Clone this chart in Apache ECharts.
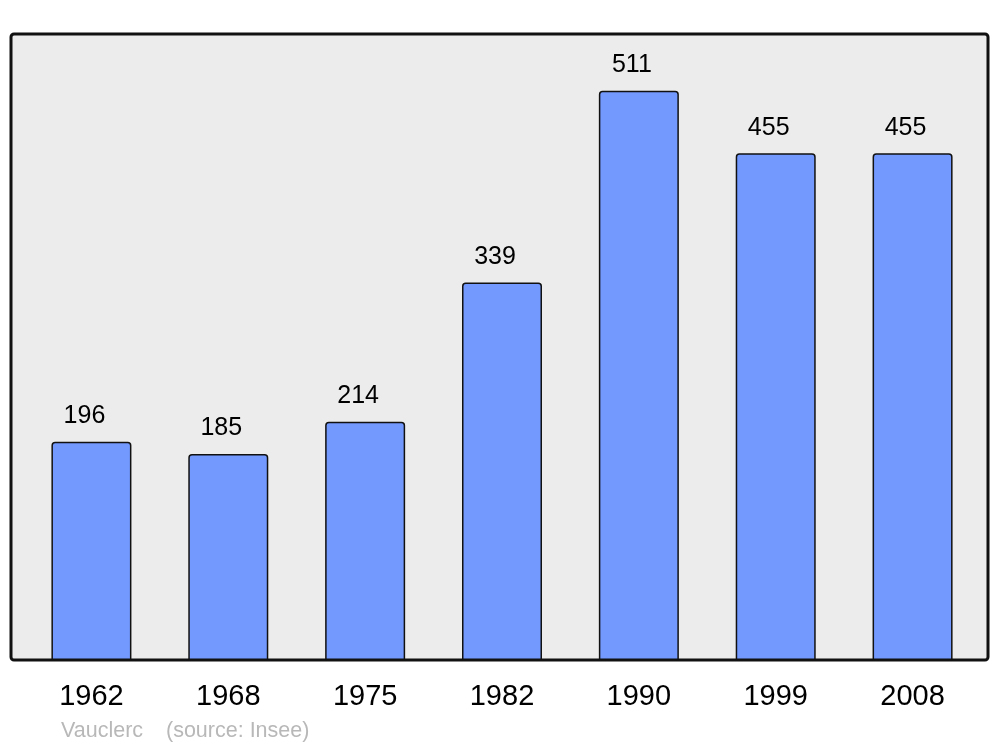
<!DOCTYPE html>
<html>
<head>
<meta charset="utf-8">
<script src="https://cdn.jsdelivr.net/npm/echarts@6/dist/echarts.min.js"></script>
<style>
  html, body { margin: 0; padding: 0; background: #fff; }
  #main { width: 1000px; height: 747px; }
</style>
</head>
<body>
<div id="main"></div>
<script>
// données population
var years = ['1962', '1968', '1975', '1982', '1990', '1999', '2008'];
var population = [196, 185, 214, 339, 511, 455, 455];

var myChart = echarts.init(document.getElementById('main'));

var option = {
  animation: false,
  textStyle: { fontFamily: 'Liberation Sans, Arial, sans-serif' },
  grid: { left: 23, right: 19, top: 34, bottom: 87 },
  // fond gris arrondi + source
  graphic: [
    {
      type: 'rect',
      z: -10,
      shape: { x: 11, y: 34, width: 977, height: 626, r: 3 },
      style: { fill: '#ececec', stroke: '#111', lineWidth: 3 }
    },
    {
      type: 'text',
      left: 61, top: 720,
      style: { text: 'Vauclerc', fill: '#b8b8b8', font: '21.5px Liberation Sans, Arial, sans-serif' }
    },
    {
      type: 'text',
      left: 166, top: 720,
      style: { text: '(source: Insee)', fill: '#b8b8b8', font: '21.5px Liberation Sans, Arial, sans-serif' }
    }
  ],
  xAxis: {
    type: 'category',
    data: years,
    axisLine: { show: false },
    axisTick: { show: false },
    axisLabel: { color: '#000', fontSize: 29, margin: 22 }
  },
  yAxis: {
    type: 'value',
    min: 0,
    max: 562,
    show: false,
    splitLine: { show: false }
  },
  series: [
    {
      type: 'bar',
      data: population,
      barWidth: 80,
      itemStyle: {
        color: '#7399ff',
        borderColor: '#111',
        borderWidth: 1.5,
        borderRadius: [3, 3, 0, 0]
      },
      label: {
        show: true,
        position: 'top',
        distance: 13,
        offset: [-7, 0],
        color: '#000',
        fontSize: 25
      }
    }
  ]
};

myChart.setOption(option);
</script>
</body>
</html>
